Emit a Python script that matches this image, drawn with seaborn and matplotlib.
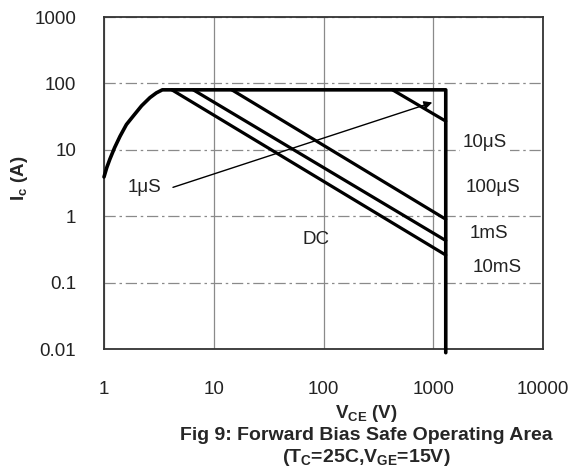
import matplotlib
matplotlib.use("Agg")
import matplotlib.pyplot as plt
import seaborn as sns
import numpy as np
import pandas as pd

# ---- data ----
limit_v = [1, 1.06, 1.13, 1.25, 1.4, 1.6, 1.84, 2.2, 2.62, 3.0, 3.4, 1300, 1300]
limit_i = [3.9, 5.4, 7.2, 10.8, 16, 24, 32, 46, 61, 72, 80, 80, 0.0088]

pulse_names = ["10μS", "100μS", "1mS", "10mS"]
pulse_start_v = [425, 14.6, 6.5, 4.15]
pulse_end_v = [1300, 1300, 1300, 1300]
pulse_start_i = [80, 80, 80, 80]
pulse_end_i = [27, 0.9, 0.43, 0.26]

label_texts = ["10μS", "100μS", "1mS", "10mS", "DC"]
label_v = [2960, 3510, 3230, 3830, 86]
label_i = [12.9, 2.72, 0.54, 0.166, 0.45]

arrow_label = "1μS"
arrow_tail = (4.25, 2.72)
arrow_head = (980, 51.6)
arrow_label_pos = (2.36, 2.72)

x_ticks = [1, 10, 100, 1000, 10000]
x_ticklabels = ["1", "10", "100", "1000", "10000"]
y_ticks = [0.01, 0.1, 1, 10, 100, 1000]
y_ticklabels = ["0.01", "0.1", "1", "10", "100", "1000"]

sns.set_style("white")
plt.rcParams["font.family"] = ["Liberation Sans", "DejaVu Sans"]
plt.rcParams["mathtext.fontset"] = "custom"
plt.rcParams["mathtext.rm"] = "Liberation Sans:bold"
plt.rcParams["mathtext.it"] = "Liberation Sans:bold"
plt.rcParams["mathtext.bf"] = "Liberation Sans:bold"
plt.rcParams["mathtext.default"] = "rm"

FS = 13.5

fig = plt.figure(figsize=(5.70, 4.72), dpi=100)
ax = fig.add_axes([104 / 570, 1 - 349 / 472, (543 - 104) / 570, (349 - 17) / 472])
ax.set_xscale("log")
ax.set_yscale("log")
ax.set_xlim(1, 10000)
ax.set_ylim(0.01, 1000)

# grid
ax.xaxis.grid(True, color="#8a8a8a", lw=0.9, ls="-", zorder=0)
ax.yaxis.grid(True, color="#8a8a8a", lw=0.9, ls=(0, (9, 3, 2, 3)), zorder=0)
ax.minorticks_off()
ax.set_xticks(x_ticks)
ax.set_xticklabels(x_ticklabels)
ax.set_yticks(y_ticks)
ax.set_yticklabels(y_ticklabels)
ax.tick_params(axis="both", length=0, labelsize=FS, colors="#222222")
ax.tick_params(axis="x", pad=23)
ax.tick_params(axis="y", pad=20)
for s in ax.spines.values():
    s.set_color("#333333")
    s.set_linewidth(1.3)
ax.set_axisbelow(True)

# boundary
df_lim = pd.DataFrame({"V": limit_v, "I": limit_i})
sns.lineplot(data=df_lim, x="V", y="I", sort=False, estimator=None,
             color="black", lw=2.6, ax=ax, clip_on=False, zorder=3)

# pulse lines
rows = []
for n, v0, v1, i0, i1 in zip(pulse_names, pulse_start_v, pulse_end_v, pulse_start_i, pulse_end_i):
    rows.append({"series": n, "V": v0, "I": i0})
    rows.append({"series": n, "V": v1, "I": i1})
df_p = pd.DataFrame(rows)
sns.lineplot(data=df_p, x="V", y="I", units="series", sort=False, estimator=None,
             color="black", lw=2.3, ax=ax, zorder=3)

# labels
for t, xv, yv in zip(label_texts, label_v, label_i):
    bb = dict(facecolor="white", edgecolor="none", pad=2) if t == "10μS" else None
    ax.text(xv, yv, t, ha="center", va="center", fontsize=FS, color="#222222",
            bbox=bb, zorder=4, clip_on=False)

ax.annotate("", xy=arrow_head, xytext=arrow_tail,
            arrowprops=dict(arrowstyle="-|>", color="black", lw=1.0, mutation_scale=12,
                            shrinkA=0, shrinkB=0), zorder=5)
ax.text(arrow_label_pos[0], arrow_label_pos[1], arrow_label, ha="center", va="center",
        fontsize=FS, color="#222222")

ax.set_xlabel("")
ax.set_ylabel("")

# axis titles & caption
fig.text(20 / 570, 1 - 178 / 472, r"I$_{c}$ (A)", rotation=90, ha="center", va="center",
         fontsize=FS, fontweight="bold")
fig.text(366 / 570, 1 - 414 / 472, r"V$_{CE}$ (V)", ha="center", va="center",
         fontsize=FS, fontweight="bold")
fig.text(366 / 570, 1 - 436 / 472, "Fig 9: Forward Bias Safe Operating Area",
         ha="center", va="center", fontsize=14, fontweight="bold")
fig.text(366 / 570, 1 - 457 / 472, r"(T$_{C}$=25C,V$_{GE}$=15V)",
         ha="center", va="center", fontsize=14, fontweight="bold")

fig.savefig("out.png", dpi=100)
